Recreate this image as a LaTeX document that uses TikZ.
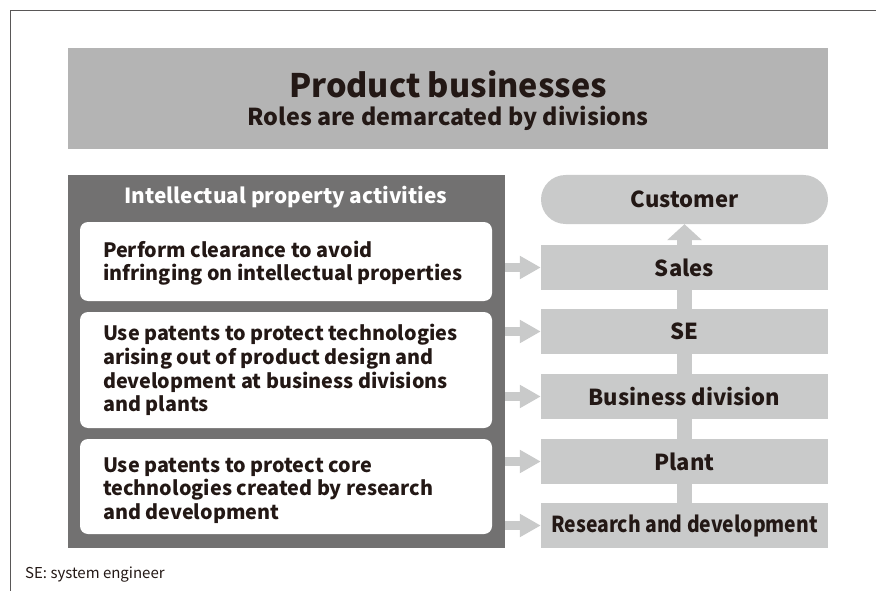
\documentclass[tikz,border=0pt]{standalone}
\usepackage{fontspec}
\usepackage{graphicx}
\setmainfont{Noto Sans CJK JP}[BoldFont={Noto Sans CJK JP Black}]
\usetikzlibrary{arrows.meta}

\definecolor{ink}{HTML}{231815}
\definecolor{titlegray}{HTML}{B4B4B4}
\definecolor{panelgray}{HTML}{727171}
\definecolor{boxgray}{HTML}{C9CACA}
\definecolor{framegray}{HTML}{595757}

\tikzset{
  lbl/.style={text=ink, font=\bfseries\fontsize{22}{24}\selectfont},
  rolebox/.style={fill=boxgray, minimum width=287pt, minimum height=45pt, inner sep=0pt, lbl},
  actbox/.style={fill=white, rounded corners=8pt, minimum width=412pt, inner sep=0pt},
  acttext/.style={anchor=west, align=left, inner sep=0pt, text=ink,
                  font=\bfseries\fontsize{19.8}{23.7}\selectfont},
  feed/.style={boxgray, line width=9.5pt, -{Triangle[width=22pt,length=21pt]}},
}

\begin{document}
\begin{tikzpicture}[x=1pt,y=-1pt]
\useasboundingbox (0,0) rectangle (876,591);

% outer frame lines
\draw[framegray, line width=1pt] (876,10.5) -- (10.5,10.5) -- (10.5,591);

% heading block
\node[fill=titlegray, minimum width=760pt, minimum height=101pt, inner sep=0pt] (head) at (448,98.5) {};
\node[text=ink, font=\bfseries\fontsize{32.4}{33}\selectfont] (title) at (448,84) {Product businesses};
\node[text=ink, font=\bfseries\fontsize{23.3}{24}\selectfont] (subtitle) at (448,118.5) {Roles are demarcated by divisions};

% intellectual property panel
\node[fill=panelgray, minimum width=437pt, minimum height=373pt, inner sep=0pt] (panel) at (286.5,361.5) {};
\node[text=white, font=\bfseries\fontsize{20.8}{21}\selectfont] (ptitle) at (286,197.5) {Intellectual property activities};

\node[actbox, minimum height=79pt] (a1) at (286,261.5) {};
\node[acttext, yshift=-1.5pt] (t1) at ([xshift=23pt]a1.west) {Perform clearance to avoid\\infringing on intellectual properties};
\node[actbox, minimum height=116pt] (a2) at (286,370) {};
\node[acttext] (t2) at ([xshift=23pt]a2.west) {Use patents to protect technologies\\arising out of product design and\\development at business divisions\\and plants};
\node[actbox, minimum height=95pt] (a3) at (286,486.5) {};
\node[acttext, yshift=-4pt] (t3) at ([xshift=23pt]a3.west) {Use patents to protect core\\technologies created by research\\and development};

% organisation column
\node[rolebox, rounded corners=24.5pt, minimum height=49pt] (cust) at (684.5,199.5) {Customer};
\coordinate (base) at (684.5,525.5);

% upward flow behind the boxes
\draw[boxgray, line width=15pt, -{Triangle[width=34pt,length=16pt]}] (base) -- (cust.south);

\node[rolebox] (rd) at (base) {\scalebox{0.88}[1]{Research and development}};
\node[rolebox] (sales) at (684.5,267.5) {Sales};
\node[rolebox] (se) at (684.5,331.5) {SE};
\node[rolebox] (bd) at (684.5,396.5) {Business division};
\node[rolebox] (plant) at (684.5,461.5) {Plant};

% arrows from the panel into each role
\foreach \r in {sales,se,bd,plant,rd}
  \draw[feed] (\r.west -| panel.east) -- (\r.west);

% footnote
\node[anchor=west, inner sep=0pt, text=ink, font=\fontsize{15}{15}\selectfont] (note) at (25,575) {SE: system engineer};
\end{tikzpicture}
\end{document}
